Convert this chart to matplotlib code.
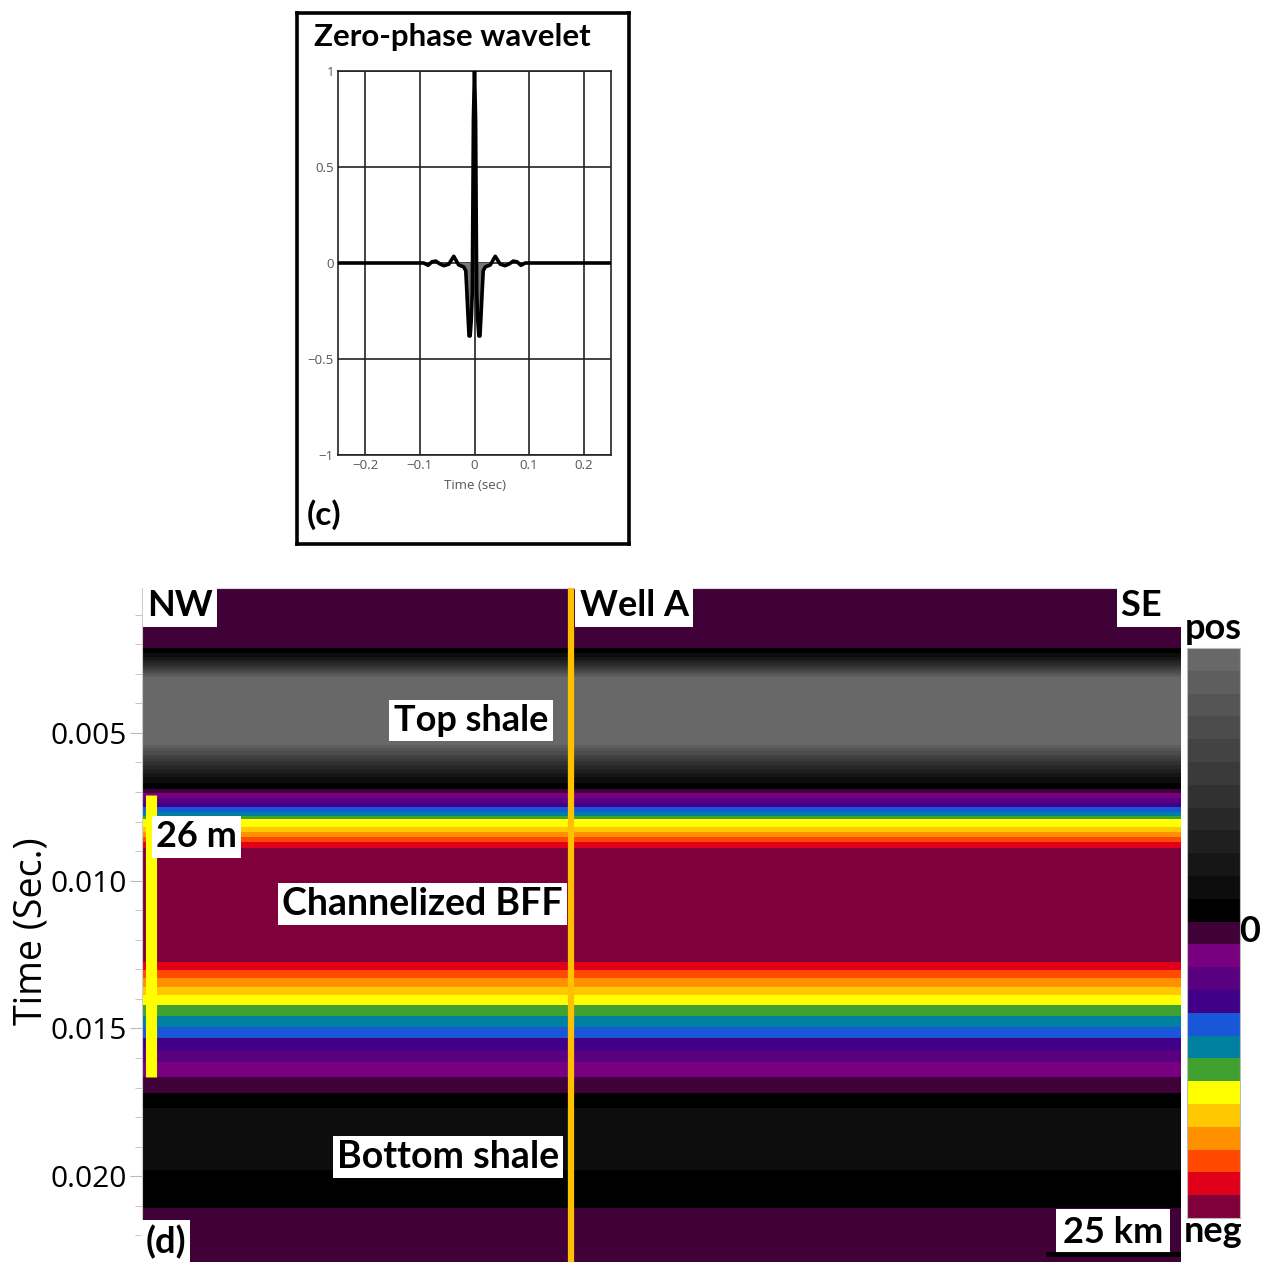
import matplotlib
matplotlib.use("Agg")
import matplotlib.pyplot as plt
import numpy as np
from matplotlib.colors import ListedColormap, BoundaryNorm
from matplotlib.ticker import MultipleLocator

plt.rcParams['font.family'] = ['Open Sans', 'DejaVu Sans']
LABEL_FONT = ['Lato', 'DejaVu Sans']

# zero-phase wavelet samples (time in s, normalised amplitude)
wav_t = [-0.25, -0.093, -0.085, -0.078, -0.071, -0.064, -0.056, -0.047, -0.038,
         -0.029, -0.020, -0.016, -0.014, -0.012, -0.010, -0.008, -0.006, -0.004,
         -0.002, 0.0, 0.002, 0.004, 0.006, 0.008, 0.010, 0.012, 0.014, 0.016,
         0.020, 0.029, 0.038, 0.047, 0.056, 0.064, 0.071, 0.078, 0.085, 0.093, 0.25]
wav_amp = [0.0, 0.0, -0.012, 0.006, 0.010, -0.004, -0.014, -0.006, 0.035,
           -0.010, -0.020, -0.040, -0.150, -0.270, -0.380, -0.380, -0.300, -0.150,
           0.750, 1.0, 0.750, -0.150, -0.300, -0.380, -0.380, -0.270, -0.150, -0.040,
           -0.020, -0.010, 0.035, -0.006, -0.014, -0.004, 0.010, 0.006, -0.012, 0.0, 0.0]

# synthetic section: band tops (ms) and amplitude level of each band
band_top_ms = [0.0,
               2.12, 2.30, 2.42, 2.52, 2.61, 2.69, 2.77, 2.84, 2.91, 2.98, 3.04, 3.10,
               5.41, 5.52, 5.63, 5.74, 5.85, 5.96, 6.08, 6.21, 6.35, 6.50, 6.68,
               6.90, 7.03, 7.20, 7.37, 7.51, 7.67, 7.81, 7.91, 8.18, 8.35, 8.52, 8.69, 8.89,
               12.75, 13.02, 13.29, 13.60, 13.87, 14.21, 14.58, 14.95, 15.32, 15.73, 16.14, 16.65,
               17.19, 17.69, 19.79, 21.08]
band_level = [-1,
              0, 1, 2, 3, 4, 5, 6, 7, 8, 9, 10, 11,
              10, 9, 8, 7, 6, 5, 4, 3, 2, 1, 0,
              -1, -2, -3, -4, -5, -6, -7, -8, -9, -10, -11, -12, -13,
              -12, -11, -10, -9, -8, -7, -6, -5, -4, -3, -2, -1,
              0, 1, 0, -1]
section_base_ms = 23.0
section_km = 192.0
well_km = 79.3
bff_top_ms, bff_base_ms = 7.10, 16.65
scale_km = 25

# amplitude palette from most negative (-13) to most positive (+11)
seis_colors = ['#80003c', '#e0001a', '#ff4800', '#ff9000', '#ffc800', '#ffff00',
               '#40a030', '#0080a0', '#1858d8', '#400088', '#580080', '#780080',
               '#400038',
               '#000000', '#0d0d0d', '#161616', '#1f1f1f', '#282828', '#313131',
               '#3a3a3a', '#434343', '#4c4c4c', '#555555', '#5e5e5e', '#686868']
levels = np.arange(-13, 12)
cmap = ListedColormap(seis_colors)
norm = BoundaryNorm(np.arange(-13.5, 12.5, 1.0), cmap.N)

W, H = 1264, 1262
fig = plt.figure(figsize=(W / 100, H / 100), dpi=100)


def px_rect(x0, y0, x1, y1):
    return [x0 / W, 1 - y1 / H, (x1 - x0) / W, (y1 - y0) / H]


# ---- (c) wavelet panel ----
frame = fig.add_axes(px_rect(297, 13, 629, 544))
frame.set_xticks([])
frame.set_yticks([])
for s in frame.spines.values():
    s.set_linewidth(2.6)
frame.text(0.05, 0.955, 'Zero-phase wavelet', transform=frame.transAxes,
           fontsize=22.5, fontweight='bold', family=LABEL_FONT, va='center', ha='left')
frame.text(0.03, 0.055, '(c)', transform=frame.transAxes,
           fontsize=24, fontweight='bold', family=LABEL_FONT, va='center', ha='left')

axw = fig.add_axes(px_rect(338, 71, 611, 455))
t = np.array(wav_t)
a = np.array(wav_amp)
axw.fill_between(t, a, 0, where=a < 0, color='#777777', lw=0, zorder=2)
axw.plot(t, a, color='black', lw=2.6, zorder=3)
axw.set_xlim(-0.25, 0.25)
axw.set_ylim(-1, 1)
axw.set_xticks([-0.2, -0.1, 0, 0.1, 0.2])
axw.set_xticklabels(['\u22120.2', '\u22120.1', '0', '0.1', '0.2'])
axw.set_yticks([-1, -0.5, 0, 0.5, 1])
axw.set_yticklabels(['\u22121', '\u22120.5', '0', '0.5', '1'])
axw.grid(True, color='#222222', lw=1.2)
axw.set_axisbelow(True)
axw.tick_params(length=0, labelsize=9.5, labelcolor='#555555', pad=3)
axw.set_xlabel('Time (sec)', fontsize=9.5, color='#555555', labelpad=5)
for s in axw.spines.values():
    s.set_color('#222222')
    s.set_linewidth(1.2)

# ---- (d) synthetic section ----
ax = fig.add_axes(px_rect(142, 588, 1181, 1262))
y_edges = np.array(band_top_ms + [section_base_ms]) / 1000.0
x_edges = np.array([0.0, section_km])
ax.pcolormesh(x_edges, y_edges, np.array(band_level)[:, None], cmap=cmap, norm=norm)
ax.set_xlim(0, section_km)
ax.set_ylim(0.0229, 0.0001)

# bed thickness marker and well
ax.plot([1.6, 1.6], [bff_top_ms / 1000, bff_base_ms / 1000], color='#ffff00',
        lw=8, solid_capstyle='butt', zorder=4)
ax.axvline(well_km, color='#ffc000', lw=4.5, zorder=4)

ax.yaxis.set_minor_locator(MultipleLocator(0.001))
ax.set_yticks([0.005, 0.010, 0.015, 0.020])
ax.set_yticklabels(['0.005', '0.010', '0.015', '0.020'])
ax.tick_params(axis='y', which='major', length=9, color='#bbbbbb', labelsize=21.5, pad=2)
ax.tick_params(axis='y', which='minor', length=5, color='#bbbbbb')
ax.set_xticks([])
for side in ['right', 'bottom']:
    ax.spines[side].set_visible(False)
ax.spines['left'].set_color('#cccccc')
ax.spines['top'].set_color('#dddddd')

fig.text(32 / W, 1 - 931 / H, 'Time (Sec.)', rotation=90, fontsize=27,
         ha='center', va='center')

box = dict(facecolor='white', edgecolor='none', pad=3)
lab = dict(fontsize=26, fontweight='bold', family=LABEL_FONT, zorder=6, bbox=box)
ax.text(0.9, 0.00015, 'NW', ha='left', va='top', **lab)
ax.text(well_km + 1.6, 0.00015, 'Well A', ha='left', va='top', **lab)
ax.text(section_km - 0.3, 0.00015, 'SE  ', ha='right', va='top', **lab)
ax.text(60.8, 0.00458, 'Top shale', ha='center', va='center', **lab)
ax.text(2.6, 0.00852, '26 m', ha='left', va='center', **lab)
ax.text(51.8, 0.01078, 'Channelized BFF', ha='center', va='center',
        **dict(lab, fontsize=27))
ax.text(56.6, 0.01935, 'Bottom shale', ha='center', va='center',
        **dict(lab, fontsize=27))
ax.text(0.6, 0.0228, '(d)', ha='left', va='bottom', **lab)

# scale bar
ax.text(section_km - scale_km / 2, 0.02245, f'{scale_km} km', ha='center',
        va='bottom', fontsize=26, fontweight='bold', family=LABEL_FONT, zorder=6,
        bbox=dict(facecolor='white', edgecolor='none', pad=5))
ax.plot([section_km - scale_km, section_km], [0.02264, 0.02264], color='black',
        lw=3.5, solid_capstyle='butt', zorder=7)

# ---- colour scale ----
cax = fig.add_axes(px_rect(1187, 648, 1240, 1218))
cax.pcolormesh([0, 1], np.arange(-13.5, 12.5, 1.0), levels[:, None], cmap=cmap, norm=norm)
cax.set_xticks([])
cax.set_yticks([])
for s in cax.spines.values():
    s.set_color('#bbbbbb')
    s.set_linewidth(0.8)
fig.text(1213 / W, 1 - 628 / H, 'pos', fontsize=26, fontweight='bold', family=LABEL_FONT,
         ha='center', va='center')
fig.text(1250 / W, 1 - 932 / H, '0', fontsize=26, fontweight='bold', family=LABEL_FONT,
         ha='center', va='center')
fig.text(1213 / W, 1 - 1232 / H, 'neg', fontsize=26, fontweight='bold', family=LABEL_FONT,
         ha='center', va='center')

fig.savefig('out.png', dpi=100)
